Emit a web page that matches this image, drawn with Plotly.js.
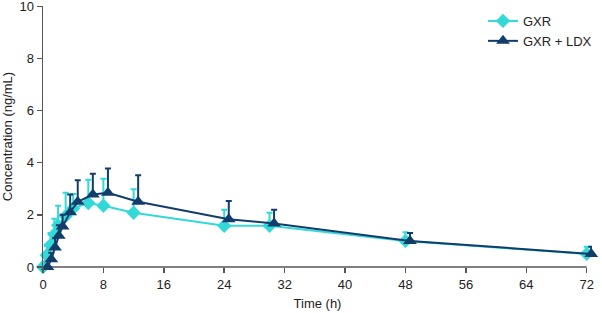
<!DOCTYPE html>
<html>
<head>
<meta charset="utf-8">
<script src="https://cdn.plot.ly/plotly-3.0.1.min.js"></script>
<style>html,body{margin:0;padding:0;background:#fff;}#chart{width:602px;height:313px;}</style>
</head>
<body>
<div id="chart"></div>
<script>
// Nominal sampling times (h)
var timesGXR = [0, 0.5, 1, 1.5, 2, 3, 4, 6, 8, 12, 24, 30, 48, 72];
var timesLDX = [0, 0.5, 1, 1.5, 2, 3, 4, 6, 8, 12, 24, 30, 48, 72];

// Mean concentrations (ng/mL)
var meanGXR = [0, 0.45, 0.85, 1.25, 1.6, 1.95, 2.25, 2.45, 2.35, 2.08, 1.58, 1.58, 1.0, 0.5];
var meanLDX = [0, 0.3, 0.75, 1.2, 1.55, 2.1, 2.5, 2.78, 2.85, 2.5, 1.83, 1.67, 1.0, 0.5];

// Upper SD (ng/mL)
var sdGXR = [0, 0.35, 0.45, 0.6, 0.75, 0.9, 0.55, 0.9, 1.03, 0.9, 0.62, 0.5, 0.33, 0.28];
var sdLDX = [0, 0.25, 0.35, 0.4, 0.45, 0.68, 0.83, 0.8, 0.93, 1.02, 0.7, 0.53, 0.3, 0.28];

var xTicks = [0, 8, 16, 24, 32, 40, 48, 56, 64, 72];
var yTicks = [0, 2, 4, 6, 8, 10];

var cyan = '#33d9d9';
var navy = '#123d6b';
var dodge = 0.6; // horizontal offset of second series so points do not overlap

var traces = [
  {
    name: 'GXR', x: timesGXR, y: meanGXR, type: 'scatter', mode: 'lines+markers',
    line: {color: cyan, width: 2},
    marker: {symbol: 'diamond', size: 11, color: cyan},
    error_y: {type: 'data', array: sdGXR, symmetric: false, arrayminus: sdGXR.map(function(){return 0;}),
              color: cyan, thickness: 2, width: 3},
    cliponaxis: false
  },
  {
    name: 'GXR + LDX', x: timesLDX.map(function(t){return t + dodge;}), y: meanLDX, type: 'scatter', mode: 'lines+markers',
    line: {color: navy, width: 2},
    marker: {symbol: 'triangle-up', size: 12, color: navy},
    error_y: {type: 'data', array: sdLDX, symmetric: false, arrayminus: sdLDX.map(function(){return 0;}),
              color: navy, thickness: 2, width: 3},
    cliponaxis: false
  }
];

var fam = 'Liberation Sans, Arial, Helvetica, sans-serif';
var axisColor = '#555';

var layout = {
  width: 602, height: 313,
  margin: {l: 43, r: 9, t: 6, b: 46},
  paper_bgcolor: '#fff', plot_bgcolor: '#fff',
  font: {family: fam, size: 13, color: '#222'},
  showlegend: true,
  legend: {x: 0.8, xanchor: 'left', y: 1, yanchor: 'top',
           bgcolor: 'rgba(0,0,0,0)',
           font: {family: fam, size: 13, color: '#222'}, tracegroupgap: 0},
  xaxis: {
    range: [0, 72.7], tickvals: xTicks, ticktext: xTicks.map(String), automargin: false,
    showgrid: false, zeroline: false, showline: false,
    ticks: 'outside', ticklen: 5, tickcolor: axisColor, tickwidth: 1.5,
    tickfont: {family: fam, size: 13, color: '#222'},
    title: {text: 'Time (h)', font: {family: fam, size: 13, color: '#222'}, standoff: 8}
  },
  yaxis: {
    range: [0, 10.01], tickvals: yTicks, ticktext: yTicks.map(String), automargin: false,
    showgrid: false, zeroline: false, showline: true, linecolor: axisColor, linewidth: 1.5,
    ticks: 'outside', ticklen: 5, tickcolor: axisColor, tickwidth: 1.5, ticklabeloverflow: 'allow',
    tickfont: {family: fam, size: 13, color: '#222'},
    title: {text: 'Concentration (ng/mL)', font: {family: fam, size: 13, color: '#222'}, standoff: 6}
  },
  shapes: [
    {type: 'line', xref: 'x', yref: 'paper', x0: 0, x1: xTicks[xTicks.length - 1], y0: 0, y1: 0,
     line: {color: axisColor, width: 1.5}, layer: 'below'}
  ]
};

Plotly.newPlot('chart', traces, layout, {displayModeBar: false, staticPlot: true});
</script>
</body>
</html>
